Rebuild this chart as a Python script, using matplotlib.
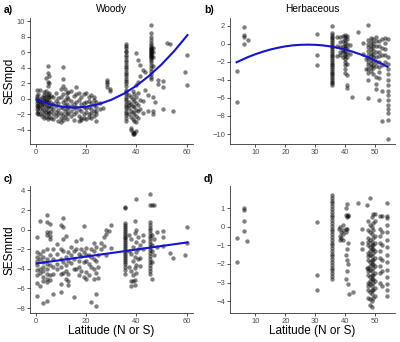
import matplotlib
matplotlib.use('Agg')
import matplotlib.pyplot as plt

plt.rcParams['font.family'] = ['Liberation Sans', 'DejaVu Sans']

# --- dane: (szerokosc geogr., [wartosci]) ---
woody_mpd = [
    (0.3, [1.2, 0.4, -0.1, -0.5, -0.9, -1.3, -1.8, 0.1]),
    (1.0, [-0.3, -0.8, -1.5, -2.0, 0.6, -1.1]),
    (1.8, [1.1, 0.0, -0.6, -1.2, -1.9, -0.3]),
    (2.5, [0.3, -0.4, -1.0, -1.6, -2.2, -0.7]),
    (3.2, [0.5, 0.1, -0.2, -0.8, -1.4, -2.0, -2.5, 0.9]),
    (4.0, [2.7, 1.0, 0.4, -0.3, -0.7, -1.2, -1.7, -2.3, -0.1]),
    (4.7, [4.2, 3.3, 2.2, 1.6, 0.6, 0.2, -0.4, -1.0, -1.5, -2.0, -2.6]),
    (5.3, [3.0, 2.0, 0.8, -0.2, -0.9, -1.8, -2.3, 0.3]),
    (6.0, [0.4, -0.5, -1.1, -1.6, -2.4]),
    (7.0, [0.2, -0.6, -1.3, -2.0, -2.6]),
    (8.0, [-0.3, -0.9, -1.7, -2.2, 0.7]),
    (9.0, [-0.5, -1.4, -2.0, -2.8, 0.1]),
    (10.0, [1.3, 0.3, -1.0, -1.8, -2.5, -3.0]),
    (10.7, [4.1, 2.6, 1.7, 0.6, -0.4, -1.2, -2.1, -2.7]),
    (11.5, [1.3, -0.1, -0.8, -1.6, -2.3]),
    (12.3, [0.2, -0.6, -1.3, -2.0, -2.6, 0.8]),
    (13.0, [0.9, 0.0, -1.1, -1.8]),
    (14.0, [1.0, -0.3, -0.9, -1.5, -2.2]),
    (15.0, [0.4, -0.6, -1.2, -2.0, -2.7]),
    (16.0, [1.5, 0.6, -0.4, -1.0, -1.7]),
    (17.0, [0.8, -0.2, -1.3, -2.2, -2.9]),
    (18.0, [0.3, -0.7, -1.5, -2.4, -2.7]),
    (19.0, [0.6, -0.5, -1.1, -2.0, -2.5]),
    (20.0, [0.7, -0.4, -1.2, -1.7, -2.6]),
    (21.0, [0.3, -0.3, -1.0, -1.9, -2.3]),
    (22.0, [0.5, -0.5, -1.3, -1.8, -2.4]),
    (23.0, [-0.2, -0.8, -1.6, -2.2, 0.2]),
    (24.0, [-0.4, -1.0, -1.9, -2.8, -1.5]),
    (25.5, [-0.5, -1.3]),
    (26.7, [-1.2]),
    (28.3, [2.4, 2.2, 1.9, 1.5]),
    (29.5, [1.3, 1.0]),
    (35.8, [7.0, 6.8, 6.5, 6.2, 6.0, 5.7, 5.4, 5.0, 4.7, 4.4, 4.1, 3.8, 3.5,
            3.2, 2.9, 2.6, 2.3, 2.0, 1.6, 1.2, 0.9, 0.6, 0.3, 0.0, -0.3, -0.6,
            -0.9, -1.2, -1.5, -1.8, -2.1, -2.5, -2.8]),
    (37.0, [0.5, -0.4, -1.2, -2.0, -0.8]),
    (37.8, [0.2, -0.6, -1.5, -2.3, -3.7, -4.0]),
    (38.5, [1.0, 0.0, -0.9, -1.7, -2.6, -4.3, -4.5]),
    (39.2, [0.6, -0.3, -1.1, -1.9, -2.8, -4.4, -4.5]),
    (40.0, [1.8, 0.3, -0.5, -1.4, -2.2, -3.0, -4.1, 5.9]),
    (40.7, [2.2, 5.0, 0.8, -0.8, -1.6, -2.5]),
    (41.3, [4.3, 3.0, -0.2, -1.3]),
    (42.5, [3.7, -0.3, -1.8]),
    (43.5, [3.5, 1.2]),
    (44.5, [-1.6, 0.5]),
    (45.8, [9.5, 8.5, 8.0, 7.6, 7.2, 6.9, 6.6, 6.4, 6.2, 6.0, 5.8, 5.6, 5.4,
            5.2, 5.0, 4.7, 4.4, 4.0, 3.6, 3.2, 2.8, 2.5, 6.7, 6.3, 5.9, 5.5]),
    (46.5, [6.6, 6.0, 5.4, 4.2, -1.5, -2.0, 0.3]),
    (47.5, [-0.4]),
    (48.5, [2.4, 1.9]),
    (50.5, [2.3, 1.5, -1.3]),
    (52.0, [7.2]),
    (53.5, [7.0]),
    (54.5, [-1.5]),
    (59.5, [3.5]),
    (60.3, [5.6, 1.8]),
]

herb_mpd = [
    (3.7, [-3.0, -6.5]),
    (6.3, [1.9, 1.0, 0.7, 0.0]),
    (7.6, [0.4]),
    (30.6, [1.1, -1.3, -2.4]),
    (35.6, [2.0, 1.2, 1.0, 0.8, 0.6, 0.4, 0.2, 0.0, -0.2, -0.4, -0.6, -0.8,
            -1.0, -1.2, -1.4, -1.6, -1.8, -2.0, -2.2, -2.4, -2.6, -2.8, -3.0,
            -3.2, -3.4, -3.6, -3.8, -4.0, -4.2, -4.4, -4.6]),
    (37.3, [-1.4, 0.8, -0.2]),
    (38.3, [0.7, 0.2, -0.4, -0.9, -1.2]),
    (39.3, [0.9, 0.3, -0.3, -0.7, -1.5, -0.9]),
    (40.0, [1.0, 0.7, 0.4, 0.1, -0.2, -0.5, -0.8, -1.1, -1.4, -1.7, -2.0,
            -2.4, -2.8, -3.2]),
    (40.7, [0.9, 0.5, 0.0, -0.5, -1.0, -1.5, -2.2, -3.5, -4.6, -4.9]),
    (41.5, [-0.1, -1.1]),
    (42.4, [-5.9]),
    (44.4, [1.3]),
    (46.0, [0.1, -1.1]),
    (47.0, [-1.7, -2.8]),
    (47.8, [0.4, 0.0, -0.4, -0.8, -1.2, -1.6, -2.0, -2.4, -2.8, -3.2, -4.0,
            -6.0, 2.1]),
    (48.6, [0.6, 0.2, -0.2, -0.6, -1.0, -1.4, -1.8, -2.2, -2.6, -3.0]),
    (49.4, [0.5, 0.1, -0.3, -0.7, -1.1, -1.5, -1.9, -2.3, -2.7, -3.4]),
    (50.2, [0.8, 0.3, -0.3, -0.9, -1.5, -2.0, -2.5, -3.7, -5.0, -4.5]),
    (51.5, [0.3, -0.3, -0.9, -1.4, -2.0, -2.6, -3.1, -3.8, -6.2]),
    (52.2, [0.5, -0.5, -1.2, -2.3, -5.2, -8.6]),
    (53.3, [0.6, 0.1, -0.6, -1.3, -2.0]),
    (54.2, [0.5, -1.5, -2.2, -2.8, -3.4, -4.0, -4.6, -5.2, -5.7, -6.2, -6.8,
            -7.2, -7.7, -8.4, -10.5]),
]

woody_mntd = [
    (0.3, [-0.7, -2.3, -2.8, -3.2, -3.6, -4.1, -4.6, -5.4, -6.8]),
    (1.5, [0.9, -2.5, -3.0, -4.0, -4.4, -5.7]),
    (3.0, [-2.2, -2.8, -3.3, -3.8, -4.2, -4.8, -5.2, -7.5]),
    (4.5, [1.5, 0.8, -0.5, -0.2, -2.0, -3.0, -3.5, -4.0, -4.5, -5.0, -5.3, -7.3]),
    (5.5, [0.6, -0.2, -0.6, -1.0, -2.6, -3.6, -4.6, -5.1]),
    (7.0, [-2.0, -3.0, -3.8, -4.5, -6.6]),
    (8.5, [-2.5, -3.5, -4.0, -1.5]),
    (10.0, [0.5, -2.0, -3.0, -3.8, -4.5, -5.5, -6.4]),
    (11.0, [1.2, 0.3, -1.0, -2.2, -3.3, -4.4]),
    (12.0, [-2.8, -3.6, -4.2, -5.0, -0.6]),
    (13.0, [-2.3, -3.2, -4.5, -5.6, -5.2]),
    (14.0, [-1.8, -2.6, -3.4]),
    (15.0, [-2.2, -3.0, -4.0, -6.9]),
    (16.0, [-1.2, -2.0, -4.0]),
    (17.0, [-2.5, -3.8, -4.6, -3.2]),
    (18.0, [-2.0, -2.7, -4.2, -1.0]),
    (19.0, [0.4, -2.3, -3.3, -4.8]),
    (20.0, [-1.9, -2.6, -3.2, -4.3, -5.0]),
    (21.0, [-2.6, -3.5, -4.6]),
    (22.0, [-2.0, -2.8, -3.8, -7.4]),
    (23.0, [-1.4, -2.2, -3.0, -4.0, -5.0]),
    (24.0, [-1.8, -3.2, -4.4, -6.6, -7.8]),
    (24.8, [-2.6, -3.8, -4.9]),
    (26.0, [-1.4, -2.0]),
    (27.0, [-1.7, -0.8]),
    (28.0, [0.0, -0.4, -2.6]),
    (29.0, [-0.1]),
    (30.0, [-1.9, 0.5]),
    (35.6, [2.3, 2.2, 0.7, 0.5, 0.3, 0.1, -0.1, -0.3, -0.5, -0.7, -0.9, -1.1,
            -1.3, -1.5, -1.7, -1.9, -2.1, -2.3, -2.5, -2.7, -2.9, -3.1, -3.3,
            -3.5, -3.8, -4.1, -4.5]),
    (37.0, [-0.5, -2.2, -3.8]),
    (38.0, [-1.0, -2.5, -4.2, -5.2, -5.7]),
    (38.7, [-1.8, -3.2, -4.6, -5.2]),
    (39.3, [0.9, -0.3, -2.8, -3.9, -5.1, -5.6]),
    (40.0, [3.1, 0.0, -1.3, -2.3, -3.6, -4.4]),
    (40.7, [-0.8, -2.0, -3.0]),
    (41.5, [-1.6, -2.9, -3.7]),
    (42.5, [-0.5, -1.2, -2.0]),
    (45.5, [3.6, 2.5, 0.8, 0.5, 0.2, 0.0, -0.3, -0.6, -0.9, -1.2, -1.5, -1.8,
            -2.1, -2.4, -2.7, -3.0, -3.3, -3.6, -3.9, -4.2, -4.5]),
    (46.3, [2.5, -0.5, -1.6, -2.2, -3.3, -5.0]),
    (47.0, [2.5, -1.0, -2.6]),
    (48.0, [-0.2, -1.8]),
    (50.6, [-0.1, -0.7, -1.7]),
    (53.2, [-2.4]),
    (54.6, [-2.9]),
    (59.2, [-2.6]),
    (60.1, [0.3, -1.4]),
]

herb_mntd = [
    (3.7, [-0.6, -1.9]),
    (6.3, [1.0, 0.9, 0.3, -0.25]),
    (7.2, [-0.75]),
    (30.6, [0.25, -2.6, -3.4]),
    (35.6, [1.7, 1.55, 1.4, 1.25, 1.1, 0.95, 0.8, 0.65, 0.5, 0.35, 0.2, 0.05,
            -0.1, -0.25, -0.4, -0.55, -0.7, -0.85, -1.0, -1.15, -1.3, -1.45,
            -1.6, -1.75, -1.9, -2.05, -2.2, -2.35, -2.5, -2.65, -2.8]),
    (37.8, [-0.1]),
    (38.3, [0.0, -0.5, -0.7]),
    (38.8, [-0.3, -0.6]),
    (39.4, [-0.2, -0.7, 0.1, -0.4]),
    (40.3, [1.0, -0.1, 0.6, -1.5, -2.8, -0.3]),
    (40.8, [1.2, 0.5, -0.15, -1.8, -2.4, -1.2]),
    (41.1, [0.6, 0.55, -2.0, -3.1, -0.9]),
    (41.4, [-3.6]),
    (42.6, [-3.5]),
    (44.2, [1.25]),
    (45.8, [-0.1, -0.85, -1.2]),
    (47.4, [1.15, -2.2]),
    (47.8, [0.3, -0.2, -0.6, -1.0, -1.4, -1.8, -2.2, -2.6, -3.0, -3.4, -3.8,
            -0.8, -1.6, -2.4, -3.2]),
    (48.3, [1.55, 0.1, -0.3, -0.7, -1.1, -1.5, -1.9, -2.3, -2.7, -3.1, -3.5,
            -3.9, -4.2, -1.3, -2.1, -2.9]),
    (48.9, [0.5, 0.0, -0.4, -0.8, -1.2, -1.6, -2.0, -2.4, -2.8, -3.2, -3.6,
            -4.0, -4.3, -1.0, -1.8, -2.6, -3.4]),
    (49.5, [0.7, 0.2, -0.2, -0.6, -1.0, -1.4, -1.8, -2.2, -2.6, -3.0, -3.4,
            -3.8, -1.2, -2.0, -2.8]),
    (50.1, [0.7, 0.3, -0.5, -0.9, -1.3, -1.7, -2.1, -2.5, -2.9, -3.3, -3.7]),
    (51.7, [0.55, -0.1, -0.5, -0.9, -1.3, -1.7, -2.1, -2.5, -3.0]),
    (52.4, [0.55, -0.3, -1.0, -1.8, -2.4, -3.2]),
    (54.1, [1.25, 0.55, 0.45, 0.1, -0.3, -0.7, -1.1, -1.5, -1.9, -2.3, -2.7,
            -3.1, -3.4, -3.7]),
]

# linie dopasowania (odczytane punkty)
woody_mpd_fit_x = [0.3, 5, 10, 15, 20, 25, 30, 35, 40, 45, 50, 55, 60.3]
woody_mpd_fit_y = [-0.09, -0.64, -0.99, -1.12, -1.01, -0.68, -0.12, 0.67,
                   1.69, 2.95, 4.43, 6.14, 8.2]
herb_mpd_fit_x = [3.7, 7.5, 10, 12.5, 15, 17.5, 20, 22.5, 25, 27.5, 30,
                  32.5, 35, 37.5, 40, 42.5, 45, 47.5, 50, 52.5, 54.2]
herb_mpd_fit_y = [-2.05, -1.48, -1.16, -0.88, -0.64, -0.45, -0.29, -0.18,
                  -0.12, -0.10, -0.12, -0.18, -0.29, -0.45, -0.64, -0.88,
                  -1.16, -1.48, -1.85, -2.25, -2.56]
woody_mntd_fit_x = [0.3, 60.3]
woody_mntd_fit_y = [-3.45, -1.3]

W, H = 400, 342
fig = plt.figure(figsize=(4, 3.42), dpi=100)


def px_axes(left, top, right, bottom):
    return fig.add_axes([left / W, 1 - bottom / H, (right - left) / W, (bottom - top) / H])


def style(ax):
    for s in ['top', 'right']:
        ax.spines[s].set_visible(False)
    for s in ['left', 'bottom']:
        ax.spines[s].set_color('#333333')
        ax.spines[s].set_linewidth(0.6)
    ax.tick_params(length=2, width=0.6, color='#333333', labelsize=5.5,
                   labelcolor='#4d4d4d', pad=1.5)


def points(ax, groups):
    xs = [lat for lat, vals in groups for _ in vals]
    ys = [v for lat, vals in groups for v in vals]
    ax.scatter(xs, ys, s=10, color='black', alpha=0.5, linewidths=0, zorder=2)


BLUE = '#1414d2'

# a) Woody
ax = px_axes(30, 18, 193, 144)
points(ax, woody_mpd)
ax.plot(woody_mpd_fit_x, woody_mpd_fit_y, color=BLUE, lw=1.5, zorder=3)
ax.set_xlim(-2.3, 62.5)
ax.set_ylim(-5.8, 10.4)
ax.set_xticks([0, 20, 40, 60])
ax.set_yticks(range(-4, 11, 2))
style(ax)

# b) Herbaceous
ax = px_axes(230, 18, 395, 144)
points(ax, herb_mpd)
ax.plot(herb_mpd_fit_x, herb_mpd_fit_y, color=BLUE, lw=1.5, zorder=3)
ax.set_xlim(1.5, 56.7)
ax.set_ylim(-11.1, 2.85)
ax.set_xticks([10, 20, 30, 40, 50])
ax.set_yticks(range(-10, 3, 2))
style(ax)

# c) Woody mntd
ax = px_axes(30, 186, 193, 313)
points(ax, woody_mntd)
ax.plot(woody_mntd_fit_x, woody_mntd_fit_y, color=BLUE, lw=1.5, zorder=3)
ax.set_xlim(-2.3, 62.5)
ax.set_ylim(-8.5, 4.45)
ax.set_xticks([0, 20, 40, 60])
ax.set_yticks(range(-8, 5, 2))
style(ax)

# d) Herbaceous mntd
ax = px_axes(230, 186, 395, 313)
points(ax, herb_mntd)
ax.set_xlim(1.5, 56.7)
ax.set_ylim(-4.63, 2.18)
ax.set_xticks([10, 20, 30, 40, 50])
ax.set_yticks(range(-4, 2))
style(ax)

# napisy
def ftext(x, y, s, **kw):
    fig.text(x / W, 1 - y / H, s, **kw)

ftext(4, 10, 'a)', fontsize=7.5, fontweight='bold', va='center')
ftext(204, 10, 'b)', fontsize=7.5, fontweight='bold', va='center')
ftext(4, 179, 'c)', fontsize=7.5, fontweight='bold', va='center')
ftext(204, 179, 'd)', fontsize=7.5, fontweight='bold', va='center')
ftext(111.5, 9, 'Woody', fontsize=7.3, ha='center', va='center')
ftext(312.5, 9, 'Herbaceous', fontsize=7.3, ha='center', va='center')
ftext(10, 81, 'SESmpd', fontsize=8.5, rotation=90, ha='center', va='center')
ftext(10, 250, 'SESmntd', fontsize=8.5, rotation=90, ha='center', va='center')
ftext(111.5, 331, 'Latitude (N or S)', fontsize=8.5, ha='center', va='center')
ftext(312.5, 331, 'Latitude (N or S)', fontsize=8.5, ha='center', va='center')

fig.savefig('out.png', dpi=100)
